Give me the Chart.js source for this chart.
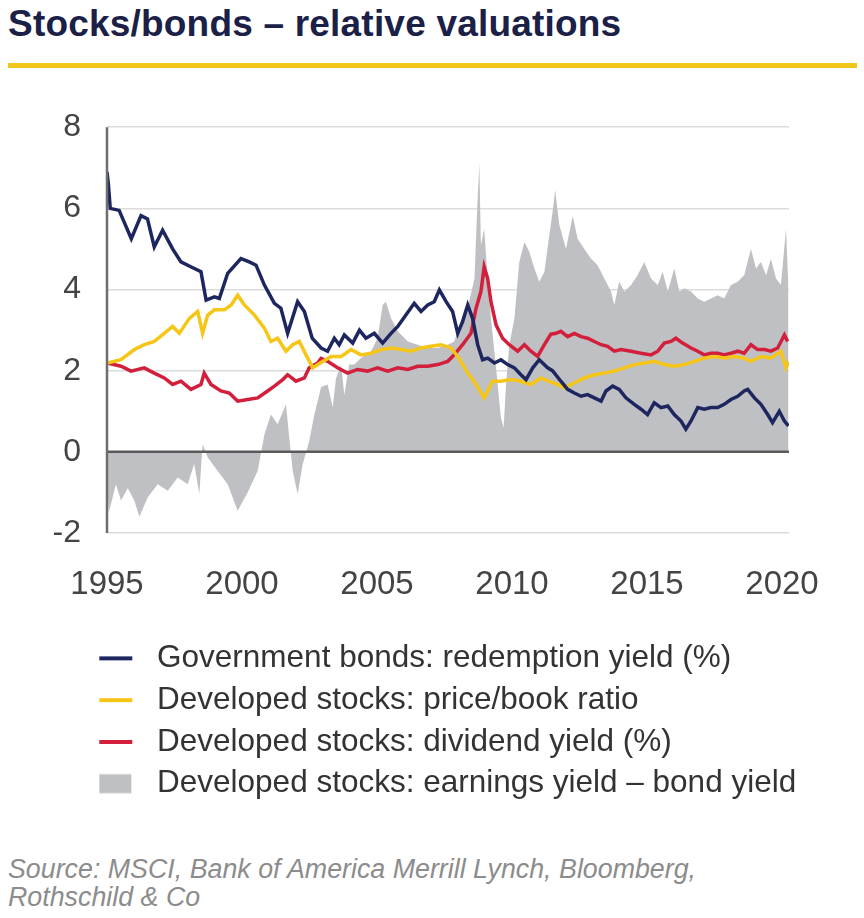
<!DOCTYPE html>
<html><head><meta charset="utf-8">
<script src="https://cdn.jsdelivr.net/npm/chart.js@4.4.0/dist/chart.umd.min.js"></script>
<style>
html,body{margin:0;padding:0;background:#fff;width:864px;height:918px;overflow:hidden;}
#title{position:absolute;left:8px;top:5px;font:bold 37px/1 "Liberation Sans",Arial,sans-serif;letter-spacing:0.2px;color:#1b2047;white-space:nowrap;}
#rule{position:absolute;left:8px;top:63px;width:849px;height:5px;background:#f2c71b;}
#wrap{position:absolute;left:0;top:82px;width:864px;height:733px;}
#source{position:absolute;left:8px;top:855px;font:italic 26.8px/28px "Liberation Sans",Arial,sans-serif;color:#8c8c8c;white-space:nowrap;}
</style></head>
<body>
<div id="title">Stocks/bonds – relative valuations</div>
<div id="rule"></div>
<div id="wrap"><canvas id="c"></canvas></div>
<div id="source">Source: MSCI, Bank of America Merrill Lynch, Bloomberg,<br>Rothschild &amp; Co</div>
<script>
const xTicks = [1995, 2000, 2005, 2010, 2015, 2020];
const yTicks = [-2, 0, 2, 4, 6, 8];
const seriesNames = [
  'Government bonds: redemption yield (%)',
  'Developed stocks: price/book ratio',
  'Developed stocks: dividend yield (%)',
  'Developed stocks: earnings yield \u2013 bond yield'
];
// [year, value]
const govBondYield = [[1995.0,6.9],[1995.05,6.6],[1995.12,6.0],[1995.45,5.95],[1995.9,5.25],[1996.26,5.82],[1996.5,5.74],[1996.75,5.05],[1997.06,5.46],[1997.43,5.0],[1997.74,4.68],[1998.1,4.56],[1998.48,4.44],[1998.67,3.74],[1998.98,3.82],[1999.16,3.78],[1999.47,4.4],[1999.96,4.76],[2000.27,4.68],[2000.52,4.6],[2000.83,4.11],[2001.2,3.66],[2001.44,3.54],[2001.69,2.92],[2002.06,3.7],[2002.31,3.46],[2002.6,2.8],[2002.93,2.56],[2003.17,2.48],[2003.42,2.8],[2003.6,2.64],[2003.79,2.88],[2004.1,2.68],[2004.35,3.0],[2004.59,2.8],[2004.9,2.92],[2005.21,2.68],[2005.52,2.92],[2005.77,3.09],[2006.07,3.37],[2006.38,3.66],[2006.63,3.46],[2006.88,3.62],[2007.12,3.7],[2007.31,3.99],[2007.56,3.7],[2007.8,3.46],[2007.99,2.92],[2008.17,3.21],[2008.36,3.62],[2008.54,3.29],[2008.73,2.64],[2008.91,2.27],[2009.1,2.31],[2009.35,2.19],[2009.59,2.27],[2009.84,2.15],[2010.09,2.07],[2010.33,1.9],[2010.52,1.78],[2010.77,2.07],[2011.01,2.27],[2011.32,2.07],[2011.5,2.0],[2011.81,1.74],[2012.06,1.54],[2012.31,1.45],[2012.56,1.37],[2012.8,1.41],[2013.05,1.33],[2013.3,1.25],[2013.48,1.5],[2013.73,1.62],[2013.97,1.54],[2014.22,1.33],[2014.53,1.17],[2014.78,1.05],[2015.02,0.92],[2015.27,1.21],[2015.52,1.09],[2015.77,1.13],[2016.01,0.92],[2016.26,0.76],[2016.44,0.56],[2016.63,0.76],[2016.88,1.09],[2017.12,1.05],[2017.37,1.09],[2017.62,1.09],[2017.86,1.17],[2018.11,1.29],[2018.36,1.37],[2018.6,1.5],[2018.73,1.54],[2018.98,1.33],[2019.22,1.17],[2019.47,0.92],[2019.65,0.72],[2019.9,1.0],[2020.09,0.76],[2020.24,0.64]];
const priceToBook = [[1995.0,2.19],[1995.52,2.27],[1996.01,2.52],[1996.38,2.64],[1996.75,2.72],[1997.12,2.92],[1997.43,3.09],[1997.68,2.92],[1998.05,3.29],[1998.36,3.46],[1998.54,2.92],[1998.73,3.37],[1998.98,3.5],[1999.35,3.5],[1999.6,3.62],[1999.84,3.86],[2000.09,3.62],[2000.46,3.37],[2000.83,3.05],[2001.07,2.72],[2001.32,2.8],[2001.63,2.48],[2001.88,2.64],[2002.12,2.72],[2002.37,2.39],[2002.62,2.07],[2002.93,2.2],[2003.3,2.35],[2003.67,2.35],[2004.04,2.52],[2004.41,2.39],[2004.78,2.43],[2005.15,2.52],[2005.52,2.56],[2005.89,2.52],[2006.26,2.48],[2006.63,2.56],[2007.0,2.6],[2007.37,2.64],[2007.74,2.56],[2007.99,2.35],[2008.36,1.94],[2008.67,1.66],[2008.97,1.33],[2009.1,1.5],[2009.28,1.74],[2009.59,1.74],[2009.96,1.78],[2010.33,1.74],[2010.7,1.66],[2011.07,1.82],[2011.44,1.72],[2011.69,1.66],[2011.94,1.58],[2012.18,1.66],[2012.43,1.74],[2012.68,1.82],[2013.05,1.9],[2013.42,1.94],[2013.79,1.99],[2014.16,2.07],[2014.53,2.15],[2014.9,2.19],[2015.27,2.23],[2015.64,2.15],[2016.01,2.11],[2016.38,2.15],[2016.75,2.23],[2017.12,2.31],[2017.49,2.35],[2017.86,2.31],[2018.23,2.35],[2018.6,2.31],[2018.85,2.23],[2019.22,2.35],[2019.59,2.31],[2019.96,2.48],[2020.15,2.07],[2020.24,2.23]];
const dividendYield = [[1995.0,2.19],[1995.52,2.11],[1995.89,1.99],[1996.38,2.07],[1996.75,1.94],[1997.12,1.82],[1997.43,1.66],[1997.74,1.74],[1998.11,1.54],[1998.48,1.66],[1998.6,1.94],[1998.85,1.66],[1999.22,1.5],[1999.53,1.45],[1999.84,1.25],[2000.21,1.29],[2000.58,1.33],[2000.95,1.5],[2001.2,1.62],[2001.51,1.78],[2001.69,1.9],[2002.0,1.74],[2002.31,1.82],[2002.49,2.07],[2002.8,2.19],[2002.93,2.3],[2003.17,2.23],[2003.54,2.07],[2003.91,1.94],[2004.28,2.03],[2004.65,1.99],[2005.02,2.07],[2005.4,1.99],[2005.77,2.07],[2006.14,2.03],[2006.51,2.11],[2006.88,2.11],[2007.25,2.15],[2007.62,2.23],[2007.86,2.39],[2008.17,2.64],[2008.48,2.92],[2008.67,3.54],[2008.85,3.95],[2008.97,4.56],[2009.1,4.27],[2009.22,3.7],[2009.41,3.13],[2009.65,2.8],[2009.9,2.64],[2010.21,2.48],[2010.46,2.64],[2010.7,2.48],[2010.95,2.35],[2011.2,2.64],[2011.44,2.9],[2011.63,2.92],[2011.81,2.97],[2012.06,2.84],[2012.31,2.92],[2012.56,2.84],[2012.8,2.8],[2013.05,2.72],[2013.3,2.64],[2013.54,2.6],[2013.79,2.48],[2014.04,2.52],[2014.41,2.48],[2014.78,2.43],[2015.15,2.39],[2015.4,2.48],[2015.64,2.68],[2015.89,2.72],[2016.07,2.8],[2016.32,2.68],[2016.63,2.56],[2016.88,2.48],[2017.12,2.39],[2017.37,2.43],[2017.62,2.43],[2017.86,2.39],[2018.11,2.43],[2018.36,2.48],[2018.6,2.43],[2018.85,2.64],[2019.1,2.52],[2019.35,2.52],[2019.59,2.48],[2019.84,2.56],[2020.09,2.88],[2020.21,2.72]];
const earningsGap = [[1995.0,-0.6],[1995.06,-1.5],[1995.15,-1.28],[1995.33,-0.8],[1995.52,-1.2],[1995.77,-0.9],[1996.01,-1.2],[1996.2,-1.6],[1996.51,-1.12],[1996.88,-0.8],[1997.25,-0.96],[1997.62,-0.63],[1997.99,-0.8],[1998.23,-0.3],[1998.42,-1.04],[1998.54,0.19],[1998.73,-0.14],[1999.1,-0.47],[1999.47,-0.8],[1999.84,-1.45],[2000.21,-1.0],[2000.58,-0.47],[2000.83,0.43],[2001.07,0.92],[2001.32,0.68],[2001.63,1.17],[2001.75,0.35],[2001.88,-0.47],[2002.06,-1.04],[2002.25,-0.3],[2002.49,0.27],[2002.68,0.92],[2002.93,1.6],[2003.17,1.66],[2003.36,1.1],[2003.48,1.8],[2003.67,2.15],[2003.79,1.4],[2003.97,2.15],[2004.16,2.15],[2004.41,2.31],[2004.78,2.48],[2005.02,2.8],[2005.21,3.62],[2005.33,3.7],[2005.52,3.29],[2005.77,2.97],[2006.14,2.72],[2006.51,2.64],[2006.88,2.56],[2007.25,2.56],[2007.62,2.64],[2007.86,2.72],[2008.11,3.21],[2008.36,3.54],[2008.61,4.27],[2008.73,6.3],[2008.79,7.1],[2008.85,5.09],[2008.97,5.5],[2009.1,4.27],[2009.22,3.29],[2009.41,2.07],[2009.59,0.84],[2009.69,0.6],[2009.78,1.66],[2009.9,2.64],[2010.09,3.29],[2010.27,4.68],[2010.46,5.17],[2010.64,4.93],[2010.83,4.52],[2011.01,4.19],[2011.2,4.44],[2011.38,5.33],[2011.5,5.9],[2011.6,6.45],[2011.75,5.6],[2012.0,5.0],[2012.25,5.82],[2012.43,5.25],[2012.68,5.0],[2012.93,4.76],[2013.17,4.6],[2013.42,4.27],[2013.67,3.95],[2013.79,3.62],[2013.97,4.19],[2014.16,3.95],[2014.41,4.11],[2014.65,4.35],[2014.9,4.68],[2015.15,4.27],[2015.4,4.11],[2015.58,4.44],[2015.77,3.95],[2016.01,4.52],[2016.2,3.95],[2016.38,4.03],[2016.63,3.95],[2016.88,3.78],[2017.12,3.7],[2017.37,3.78],[2017.62,3.86],[2017.86,3.78],[2018.11,4.11],[2018.36,4.19],[2018.6,4.35],[2018.85,5.0],[2019.04,4.52],[2019.22,4.68],[2019.41,4.35],[2019.59,4.76],[2019.78,4.27],[2019.96,4.11],[2020.15,5.5],[2020.24,4.03]];

const toPoints = arr => arr.map(([x, y]) => ({x, y}));
const colors = ['#1e2660', '#f5c617', '#d21f3c', '#bfc0c3'];

const legendFontSize = 31.5;
const legendPad = 10.3;
// legend marker images: blank lead-in so the marker lines up under the plot's left edge
function marker(color, square) {
  const c = document.createElement('canvas');
  c.width = 81; c.height = 32;
  const g = c.getContext('2d');
  g.fillStyle = color;
  if (square) g.fillRect(39, 6.5, 32, 19); else g.fillRect(39, 14, 33, 4);
  return c;
}
const markers = [marker(colors[0]), marker(colors[1]), marker(colors[2]), marker(colors[3], true)];

const axisLines = {
  id: 'axisLines',
  afterDatasetsDraw(chart) {
    const {ctx, chartArea: a, scales: {y}} = chart;
    const y0 = y.getPixelForValue(0);
    ctx.save();
    ctx.strokeStyle = '#5a5a5a';
    ctx.lineWidth = 2.5;
    ctx.beginPath(); ctx.moveTo(a.left, y0); ctx.lineTo(a.right, y0); ctx.stroke();
    ctx.strokeStyle = '#6e6e6e';
    ctx.beginPath(); ctx.moveTo(a.left, a.top); ctx.lineTo(a.left, a.bottom); ctx.stroke();
    ctx.restore();
  }
};

const font = 'Liberation Sans, Arial, sans-serif';
new Chart(document.getElementById('c'), {
  type: 'line',
  data: {
    datasets: [
      {label: seriesNames[0], data: toPoints(govBondYield), borderColor: colors[0], borderWidth: 3.5, pointRadius: 0, fill: false, tension: 0},
      {label: seriesNames[1], data: toPoints(priceToBook), borderColor: colors[1], borderWidth: 3.5, pointRadius: 0, fill: false, tension: 0},
      {label: seriesNames[2], data: toPoints(dividendYield), borderColor: colors[2], borderWidth: 3.5, pointRadius: 0, fill: false, tension: 0},
      {label: seriesNames[3], data: toPoints(earningsGap), borderColor: 'rgba(0,0,0,0)', borderWidth: 0, backgroundColor: colors[3], pointRadius: 0, fill: 'origin', tension: 0}
    ]
  },
  options: {
    responsive: true, maintainAspectRatio: false, animation: false, events: [],
    layout: {padding: {top: 27, left: 50, right: 40, bottom: 5.5}},
    scales: {
      x: {
        type: 'linear', min: 1995, max: 2020.26,
        afterBuildTicks: s => { s.ticks = xTicks.map(v => ({value: v})); },
        afterFit: s => { s.height = 99.3; },
        grid: {display: false, drawTicks: false}, border: {display: false},
        ticks: {padding: 32, autoSkip: false, maxRotation: 0, font: {family: font, size: 33}, color: '#444', callback: v => String(v)}
      },
      y: {
        min: -2, max: 8,
        afterBuildTicks: s => { s.ticks = yTicks.map(v => ({value: v})); },
        afterFit: s => { s.width = 57; },
        grid: {color: c => (c.tick && c.tick.value === 0) ? 'rgba(0,0,0,0)' : '#dcdcdc', lineWidth: 1.5, drawTicks: false},
        border: {display: false},
        ticks: {padding: 26, font: {family: font, size: 32}, color: '#444', callback: v => String(v)}
      },
      yRightSpacer: {
        position: 'right', min: -2, max: 8,
        afterFit: s => { s.width = 35; },
        grid: {display: false, drawTicks: false}, border: {display: false},
        ticks: {display: false}
      }
    },
    plugins: {
      tooltip: {enabled: false},
      legend: {
        position: 'bottom', align: 'start',
        labels: {
          usePointStyle: true, pointStyleWidth: 81, padding: legendPad,
          font: {family: font, size: legendFontSize}, color: '#333',
          generateLabels: chart => chart.data.datasets.map((ds, i) => ({
            text: ds.label, pointStyle: markers[i], fillStyle: colors[i], strokeStyle: colors[i],
            lineWidth: 0, hidden: false, datasetIndex: i, fontColor: '#333'
          }))
        }
      }
    }
  },
  plugins: [axisLines]
});
</script>
</body></html>
